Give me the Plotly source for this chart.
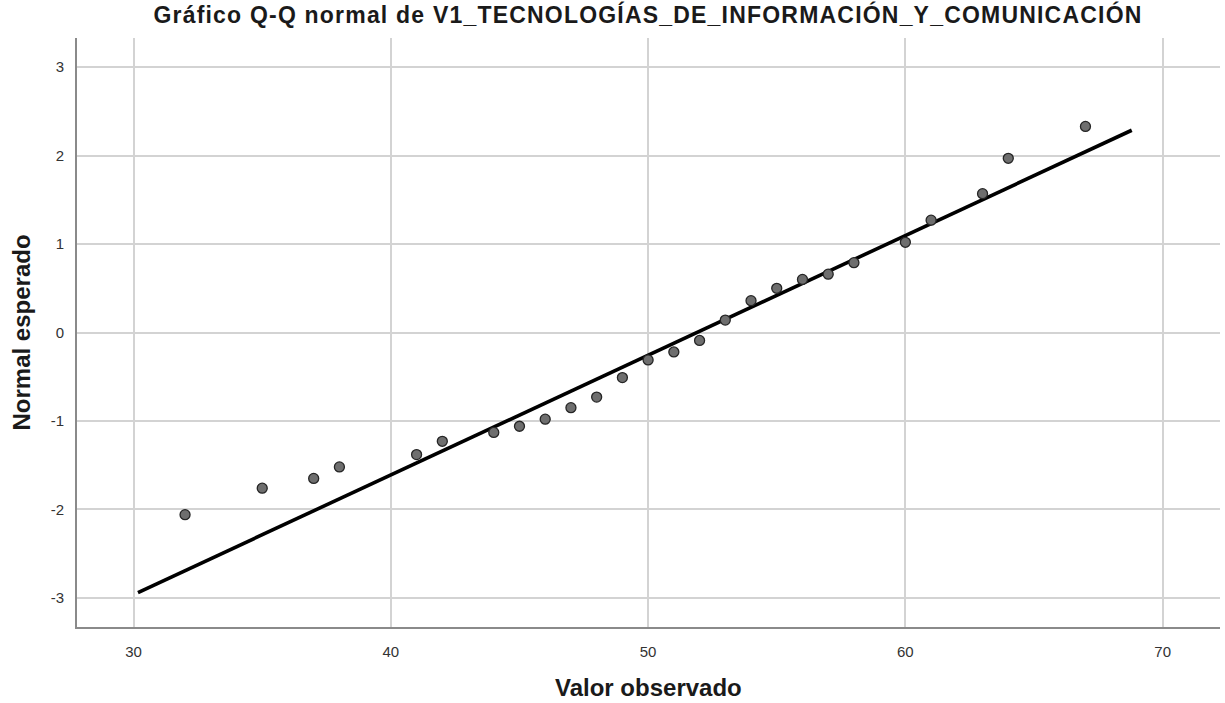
import plotly.graph_objects as go

# Observed scores and their expected normal quantiles
observed = [32, 35, 37, 38, 41, 42, 44, 45, 46, 47, 48, 49, 50,
            51, 52, 53, 54, 55, 56, 57, 58, 60, 61, 63, 64, 67]
expected = [-2.06, -1.76, -1.65, -1.52, -1.38, -1.23, -1.13, -1.06, -0.98,
            -0.85, -0.73, -0.51, -0.31, -0.22, -0.09, 0.14, 0.36, 0.50,
            0.60, 0.66, 0.79, 1.02, 1.27, 1.57, 1.97, 2.33]

# Reference normal line: z = (x - mean) / sd over the drawn span
line_mean = 51.9
line_sd = 7.39
line_x = [30.17, 68.8]
line_y = [(v - line_mean) / line_sd for v in line_x]

x_ticks = [30, 40, 50, 60, 70]
y_ticks = [-3, -2, -1, 0, 1, 2, 3]
y_labels = ["-3", "-2", "-1", "0", "1", "2", "3"]

title_text = "Gráfico Q-Q normal de V1_TECNOLOGÍAS_DE_INFORMACIÓN_Y_COMUNICACIÓN"

FONT = "Liberation Sans, Arial, sans-serif"

fig = go.Figure()

fig.add_trace(go.Scatter(
    x=line_x, y=line_y, mode="lines",
    line=dict(color="black", width=3.6),
    hoverinfo="skip", showlegend=False,
))

fig.add_trace(go.Scatter(
    x=observed, y=expected, mode="markers",
    marker=dict(size=10, color="#6e6e6e",
                line=dict(color="#252525", width=1.3)),
    showlegend=False,
))

fig.update_layout(
    width=1225, height=703,
    margin=dict(l=77, r=5, t=38, b=76),
    paper_bgcolor="white", plot_bgcolor="white",
    font=dict(family=FONT, color="#333333"),
    title=dict(
        text="<span style='letter-spacing:1.2px'>" + title_text + "</span>",
        font=dict(family=FONT, size=23, color="#1a1a1a", weight="bold"),
        xref="container", x=648 / 1225, xanchor="center",
        yref="container", y=1 - 15 / 703, yanchor="middle",
    ),
    xaxis=dict(
        range=[27.8, 72.23], tickvals=x_ticks,
        showgrid=True, gridcolor="#d3d3d3", gridwidth=1.5,
        showline=True, linecolor="#8a8a8a", linewidth=2,
        zeroline=False, ticks="", ticklabelstandoff=10,
        tickfont=dict(family=FONT, size=15, color="#333333"),
    ),
    yaxis=dict(
        range=[-3.33, 3.33], tickvals=y_ticks, ticktext=y_labels,
        showgrid=True, gridcolor="#d3d3d3", gridwidth=1.5,
        showline=True, linecolor="#8a8a8a", linewidth=2,
        zeroline=False, ticks="", ticklabelstandoff=8,
        tickfont=dict(family=FONT, size=15, color="#333333"),
    ),
    annotations=[
        dict(text="<b>Valor observado</b>", xref="paper", yref="paper",
             x=0.5, y=0, xanchor="center", yanchor="middle", yshift=-60,
             showarrow=False, font=dict(family=FONT, size=24, color="#1a1a1a")),
        dict(text="<b>Normal esperado</b>", xref="paper", yref="paper",
             x=0, y=0.5, xanchor="center", yanchor="middle", xshift=-56,
             textangle=-90, showarrow=False,
             font=dict(family=FONT, size=24, color="#1a1a1a")),
    ],
)

fig.write_html("out.html")
